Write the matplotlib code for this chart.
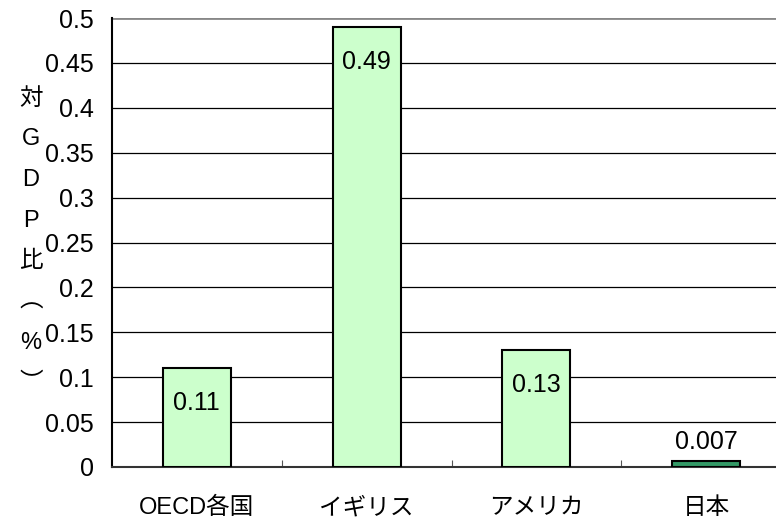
import matplotlib.pyplot as plt

plt.rcParams['font.family'] = ['Liberation Sans', 'Noto Sans CJK JP', 'DejaVu Sans']

categories = ['OECD各国', 'イギリス', 'アメリカ', '日本']
values = [0.11, 0.49, 0.13, 0.007]
bar_colors = ['#CCFFCC', '#CCFFCC', '#CCFFCC', '#339966']
yticks = [0, 0.05, 0.1, 0.15, 0.2, 0.25, 0.3, 0.35, 0.4, 0.45, 0.5]
ylabel_chars = ['対', 'G', 'D', 'P', '比', '︵', '%', '︶']

fig = plt.figure(figsize=(7.76, 5.28), dpi=100)
ax = fig.add_axes([112 / 776, 61 / 528, 679 / 776, 449 / 528])

x = list(range(len(categories)))
ax.bar(x, values, width=0.4, color=bar_colors, edgecolor='black', linewidth=1.5, zorder=3)

for xi, v in zip(x, values):
    if v > 0.05:
        ax.annotate(f'{v:g}', (xi, v), xytext=(0, -25), textcoords='offset points',
                    ha='center', va='center', fontsize=18, zorder=4)
    else:
        ax.annotate(f'{v:g}', (xi, v), xytext=(0, 5), textcoords='offset points',
                    ha='center', va='bottom', fontsize=18, zorder=4)

ax.set_xlim(-0.5, len(categories) - 0.5)
ax.set_ylim(0, 0.5)
ax.set_yticks(yticks)
ax.set_yticklabels([f'{t:g}' for t in yticks], fontsize=18)
ax.tick_params(axis='y', length=0, pad=13)

# category boundaries get small inward ticks
ax.set_xticks([i + 0.5 for i in x[:-1]])
ax.set_xticklabels([])
ax.tick_params(axis='x', direction='in', length=5, color='#555555')
for xi, name in zip(x, categories):
    ax.text(xi, -0.046, name, ha='center', va='center', fontsize=17,
            transform=ax.transData, clip_on=False)

for t in yticks[1:-1]:
    ax.axhline(t, color='black', linewidth=0.9, zorder=1)
ax.axhline(0.5, color='#888888', linewidth=2, zorder=1)

for side in ['top', 'right']:
    ax.spines[side].set_visible(False)
ax.spines['left'].set_linewidth(1.5)
ax.spines['bottom'].set_linewidth(1.5)
ax.spines['bottom'].set_color('#333333')

fig.text(31 / 776, 1 - 241 / 528, '\n'.join(ylabel_chars), ha='center', va='center',
         fontsize=17, linespacing=2.1)

fig.savefig('out.png', dpi=100)
